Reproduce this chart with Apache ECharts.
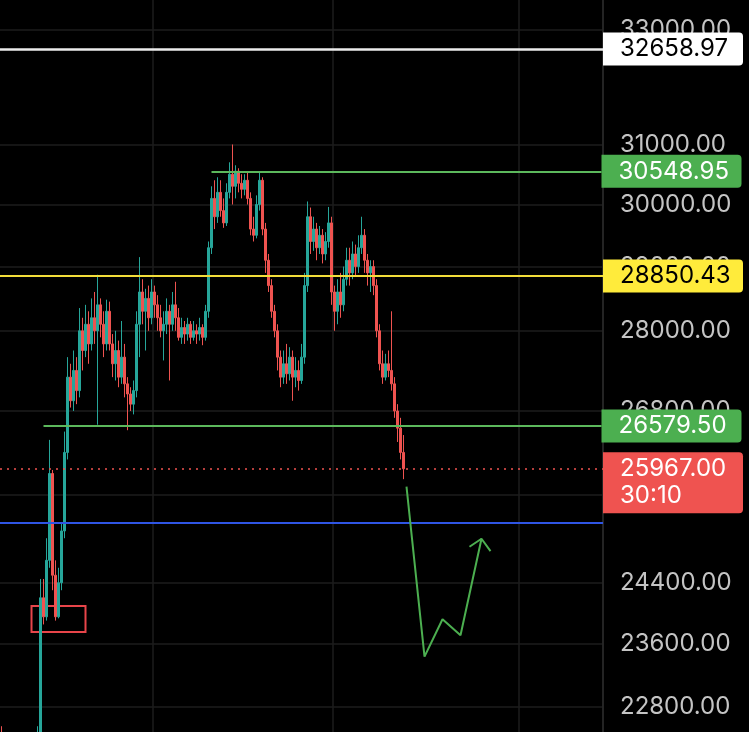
<!DOCTYPE html>
<html><head><meta charset="utf-8">
<script src="https://cdn.jsdelivr.net/npm/echarts@6/dist/echarts.min.js"></script>
<style>html,body{margin:0;padding:0;background:#000;overflow:hidden}#c{width:749px;height:732px}</style>
</head><body><div id="c"></div>
<script>
// ---- data ----
const slotCount = 201; // candle slots incl. empty future space
// [open, close, low, high]
const candles = [
[22450,22380,22300,22560],[22380,22300,22200,22420],[22300,22350,22250,22400],[22350,22250,22200,22400],
[22250,22300,22150,22350],[22300,22200,22100,22350],[22200,22250,22150,22300],[22250,22300,22200,22380],
[22300,22250,22200,22350],[22250,22350,22200,22400],[22350,22300,22250,22420],[22300,22380,22250,22450],
[22380,22400,22300,22560],[22400,24200,22350,24450],[24200,23950,23850,24450],[23950,24700,23900,25000],
[24700,25900,24600,26380],[25900,24500,24300,25950],[24500,23950,23900,24700],[23950,24400,23930,24600],
[24400,25100,24300,25200],[25100,26200,25000,26500],[26200,27300,26100,27600],[27300,26950,26850,27500],
[26950,27400,26800,27700],[27400,27100,26900,27600],[27100,28000,27000,28350],[28000,27700,27400,28200],
[27700,28100,27600,28400],[28100,27800,27500,28300],[27800,28200,27700,28500],[28200,28000,27800,28600],
[28000,28400,26600,28870],[28400,28100,27900,28500],[28100,27800,27600,28300],[27800,28300,27700,28480],
[28300,27800,27700,28450],[27800,27500,27300,27950],[27500,27700,27250,28000],[27700,27300,27150,27850],
[27300,27600,27200,28150],[27600,27200,27000,27800],[27200,27050,26520,27300],[27050,26900,26800,27150],
[26900,27100,26750,27250],[27100,28100,27000,28300],[28100,28600,27600,29150],[28600,28300,28100,28800],
[28300,28500,27700,28650],[28500,28200,28000,28700],[28200,28600,28100,28800],[28600,28400,28200,28700],
[28400,28200,28000,28550],[28200,28000,27900,28400],[28000,28100,27550,28300],[28100,28300,27950,28500],
[28300,28100,27250,28400],[28100,28400,28000,28600],[28400,28200,28000,28760],[28200,27900,27850,28350],
[27900,28050,27800,28200],[28050,27950,27800,28150],[27950,28100,27850,28200],[28100,27900,27800,28150],
[27900,28000,27850,28150],[28000,27950,27800,28100],[27950,28050,27850,28200],[28050,27900,27780,28100],
[27900,28300,27850,28400],[28300,29300,28200,29400],[29300,30100,29200,30300],[30100,29800,29600,30400],
[29800,30200,29700,30450],[30200,29900,29800,30400],[29900,29700,29620,30100],[29700,30200,29650,30350],
[30200,30500,30100,30700],[30500,30300,30000,31000],[30300,30550,30100,30650],[30550,30350,30200,30600],
[30350,30250,30100,30500],[30250,30400,30150,30500],[30400,30100,30000,30550],[30100,29600,29500,30200],
[29600,29500,29400,29800],[29500,30000,29450,30150],[30000,30400,29900,30550],[30400,29600,29500,30450],
[29600,29100,28900,29700],[29100,28700,28600,29200],[28700,28300,28200,28800],[28300,28000,27900,28400],
[28000,27600,27400,28100],[27600,27300,27150,27700],[27300,27500,27200,27700],[27500,27350,27200,27800],
[27350,27600,27250,27750],[27600,27300,26950,27700],[27300,27400,27150,27600],[27400,27250,27100,27550],
[27250,27600,27200,27800],[27600,28700,27500,28900],[28700,29800,28600,30050],[29800,29400,29200,29950],
[29400,29600,29250,29800],[29600,29300,29100,29700],[29300,29500,29200,29650],[29500,29200,29050,29600],
[29200,29400,29100,29550],[29400,29700,29300,29960],[29700,28600,28400,29800],[28600,28300,28000,28700],
[28300,28600,28100,28800],[28600,28400,28200,28900],[28400,28800,28300,29000],[28800,29100,28700,29300],
[29100,28900,28700,29300],[28900,29200,28800,29400],[29200,29000,28850,29350],[29000,29300,28900,29500],
[29300,29500,29200,29800],[29500,29100,28900,29600],[29100,28900,28700,29200],[28900,29000,28600,29100],
[29000,28700,28550,29100],[28700,28000,27900,28800],[28000,27500,27400,28100],[27500,27300,27200,27700],
[27300,27500,27250,27650],[27500,27400,27300,27700],[27400,27200,27100,28300],[27200,26800,26700,27300],
[26800,26550,26350,26900],[26550,26200,26100,26700],[26200,25967,25820,26450]
];
const tickValues = [22800, 23600, 24400, 25600, 26800, 28000, 29000, 30000, 31000, 33000];
const levelWhite = 32658.97;
const levelGreenTop = 30548.95;
const levelYellow = 28850.43;
const levelGreenLow = 26579.50;
const lastPrice = 25967.00;
const countdown = '30:10';
const levelBlue = 25210;
const greenTopStart = 70;
const greenLowStart = 14;
const forecastPath = [[135,25716],[141,23435],[147,23917],[153,23709],[160,24993]];
const arrowHead = [[156,24884],[160,24993],[163,24824]];
const zoneBox = [[10,24090],[28,23752]];
const vGridIdx = [51,111,173];
const yMin = 22489, yMax = 33546;

// ---- chart ----
const categories = [];
for (let i = 0; i < slotCount; i++) categories.push(String(i));
const FONT = 'Inter, Roboto, sans-serif';
const FS = 24;
const boxLabel = (text, bg, fg) => ({
  show: true, position: 'end', distance: 0, formatter: text,
  backgroundColor: bg, color: fg, fontSize: FS, fontFamily: FONT, lineHeight: 25,
  padding: [4, 14, 4, 17], width: 109, borderRadius: [0, 4, 4, 0]
});
const chart = echarts.init(document.getElementById('c'), null, {renderer: 'canvas'});
chart.setOption({
  backgroundColor: '#000',
  animation: false,
  grid: {left: 0, right: 146, top: 0, bottom: 0, containLabel: false},
  xAxis: {
    type: 'category', data: categories, boundaryGap: true,
    axisLine: {show: false}, axisTick: {show: false}, axisLabel: {show: false},
    splitLine: {show: true, interval: (idx) => vGridIdx.includes(idx), lineStyle: {color: '#1d1d1d', width: 1.5}}
  },
  yAxis: {
    type: 'log', logBase: 10, min: yMin, max: yMax, position: 'right',
    axisLine: {show: true, lineStyle: {color: '#2a2a2a', width: 1.5}},
    axisTick: {show: false, customValues: tickValues},
    axisLabel: {customValues: tickValues, formatter: (v) => Number(v).toFixed(2), color: '#c4c4c4',
      fontSize: FS, fontFamily: FONT, margin: 17, align: 'left'},
    splitLine: {show: true, lineStyle: {color: '#1d1d1d', width: 1.5}}
  },
  series: [
    {
      type: 'candlestick', data: candles, barWidth: 2,
      itemStyle: {color: '#26a69a', color0: '#ef5350', borderColor: '#26a69a', borderColor0: '#ef5350', borderWidth: 1},
      markLine: {
        silent: true, symbol: ['none', 'none'], animation: false,
        data: [
          {yAxis: levelWhite, lineStyle: {color: '#ececec', width: 2.5, type: 'solid'}, label: boxLabel('32658.97', '#ffffff', '#000000')},
          [{coord: [categories[greenTopStart], levelGreenTop], lineStyle: {color: '#5cb85c', width: 2, type: 'solid'}, label: boxLabel('30548.95', '#4caf50', '#ffffff')},
           {coord: [categories[slotCount - 1], levelGreenTop]}],
          {yAxis: levelYellow, lineStyle: {color: '#f2dd3a', width: 2, type: 'solid'}, label: boxLabel('28850.43', '#ffeb3b', '#000000')},
          [{coord: [categories[greenLowStart], levelGreenLow], lineStyle: {color: '#5cb85c', width: 2, type: 'solid'}, label: boxLabel('26579.50', '#4caf50', '#ffffff')},
           {coord: [categories[slotCount - 1], levelGreenLow]}],
          {yAxis: lastPrice, lineStyle: {color: '#ef5350', width: 1.5, type: [2, 5]},
           label: Object.assign(boxLabel('25967.00\n' + countdown, '#ef5350', '#ffffff'), {lineHeight: 27, padding: [3, 14, 4, 17], offset: [0, 14]})},
          {yAxis: levelBlue, lineStyle: {color: '#2f55e4', width: 2, type: 'solid'}, label: {show: false}}
        ]
      },
      markArea: {
        silent: true,
        itemStyle: {color: 'rgba(0,0,0,0)', borderColor: '#e8454a', borderWidth: 2},
        data: [[{coord: [categories[zoneBox[0][0]], zoneBox[0][1]]}, {coord: [categories[zoneBox[1][0]], zoneBox[1][1]]}]]
      }
    },
    {type: 'line', data: forecastPath, symbol: 'none', lineStyle: {color: '#4caf50', width: 2}, z: 5},
    {type: 'line', data: arrowHead, symbol: 'none', lineStyle: {color: '#4caf50', width: 2}, z: 5}
  ]
});
</script></body></html>
